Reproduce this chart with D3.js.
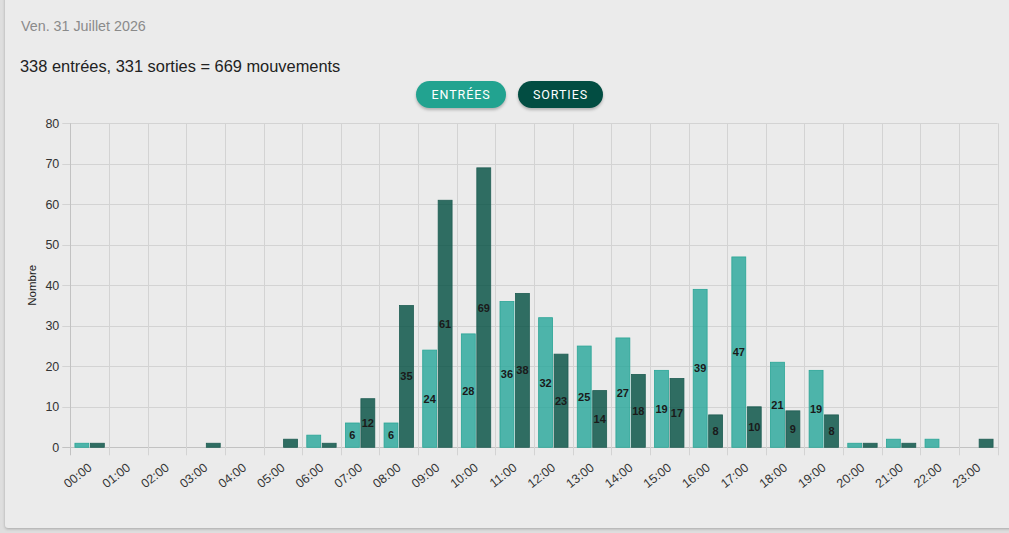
<!DOCTYPE html>
<html lang="fr">
<head>
<meta charset="utf-8">
<script src="https://cdn.jsdelivr.net/npm/d3@7"></script>
<style>
  body { margin: 0; background: #dedede; width: 1009px; height: 533px; overflow: hidden; position: relative; font-family: "Liberation Sans", Arial, sans-serif; }
  .card { position: absolute; left: 5px; top: -20px; width: 1030px; height: 548px; background: #ebebeb; border-radius: 3px; box-shadow: 0 1px 3px rgba(0,0,0,0.25); }
  .date { position: absolute; left: 21px; top: 18px; font-size: 14.3px; color: #8a8a8a; }
  .total { position: absolute; left: 20px; top: 57px; font-size: 16.4px; color: #222; }
  .btn { position: absolute; top: 81px; height: 27px; line-height: 27px; border-radius: 14px; color: #fff; font-family: Roboto, sans-serif; font-size: 12.5px; letter-spacing: 0.9px; text-align: center; box-shadow: 0 2px 3px rgba(0,0,0,0.25); }
  #chart { position: absolute; left: 0; top: 0; }
</style>
</head>
<body>
<div class="card"></div>
<div class="date">Ven. 31 Juillet 2026</div>
<div class="total">338 entrées, 331 sorties = 669 mouvements</div>
<div class="btn" style="left:416px;width:90px;background:#22a390;">ENTRÉES</div>
<div class="btn" style="left:518px;width:85px;background:#024d42;">SORTIES</div>
<svg id="chart" width="1009" height="533"></svg>
<script>
// Data
const heures = ['00:00','01:00','02:00','03:00','04:00','05:00','06:00','07:00','08:00','09:00','10:00','11:00',
                '12:00','13:00','14:00','15:00','16:00','17:00','18:00','19:00','20:00','21:00','22:00','23:00'];
const entrees = [1,0,0,0,0,0,3,6,6,24,28,36,32,25,27,19,39,47,21,19,1,2,2,0];
const sorties = [1,0,0,1,0,2,1,12,35,61,69,38,23,14,18,17,8,10,9,8,1,1,0,2];
const yTicks = [0,10,20,30,40,50,60,70,80];

const series = [
  { key: 'entrees', values: entrees, fill: 'rgba(38,166,154,0.8)', stroke: '#2aa596' },
  { key: 'sorties', values: sorties, fill: 'rgba(0,77,64,0.8)', stroke: '#1f5d53' }
];

const margin = { top: 123.3, right: 11.3, bottom: 85.7, left: 70.3 };
const width = 1009, height = 533;

function drawChart(){
  const svg = d3.select('#chart');

  const x = d3.scaleBand()
    .domain(heures)
    .range([margin.left, width - margin.right]);
  const bw = x.bandwidth();

  // grouped bars, Chart.js style (categoryPercentage 0.8, barPercentage 0.9)
  const x1 = d3.scaleBand()
    .domain(series.map(s => s.key))
    .range([bw * 0.1, bw * 0.9])
    .paddingInner(0.1)
    .paddingOuter(0.05);

  const y = d3.scaleLinear()
    .domain([0, 80])
    .range([height - margin.bottom, margin.top]);

  const grid = svg.append('g');

  // horizontal grid + tick marks
  grid.selectAll('line.h')
    .data(yTicks)
    .enter()
    .append('line')
    .attr('x1', margin.left - 8)
    .attr('x2', width - margin.right)
    .attr('y1', d => Math.round(y(d)) + 0.5)
    .attr('y2', d => Math.round(y(d)) + 0.5)
    .attr('stroke', d => d === 0 ? '#c2c2c2' : '#d3d3d3');

  // vertical grid at category boundaries
  const bounds = heures.map(h => x(h)).concat([width - margin.right]);
  grid.selectAll('line.v')
    .data(bounds)
    .enter()
    .append('line')
    .attr('x1', d => Math.round(d) + 0.5)
    .attr('x2', d => Math.round(d) + 0.5)
    .attr('y1', margin.top)
    .attr('y2', height - margin.bottom + 8)
    .attr('stroke', (d, i) => i === 0 ? '#c2c2c2' : '#d3d3d3');

  // y labels
  svg.selectAll('text.ytick')
    .data(yTicks)
    .enter()
    .append('text')
    .attr('x', margin.left - 11)
    .attr('y', d => y(d) + 4.5)
    .attr('text-anchor', 'end')
    .style('font', '12.5px "Liberation Sans", Arial, sans-serif')
    .attr('fill', '#333')
    .text(d => d);

  // x labels, rotated
  svg.selectAll('text.xtick')
    .data(heures)
    .enter()
    .append('text')
    .attr('transform', d => `translate(${x(d) + bw / 2 + 3},${height - margin.bottom + 22}) rotate(-38)`)
    .attr('text-anchor', 'end')
    .style('font', '12.5px "Liberation Sans", Arial, sans-serif')
    .attr('fill', '#333')
    .text(d => d);

  // bars
  series.forEach(s => {
    const g = svg.append('g');
    g.selectAll('rect')
      .data(s.values.map((v, i) => ({ h: heures[i], v: v })))
      .enter()
      .append('rect')
      .attr('x', d => x(d.h) + x1(s.key))
      .attr('width', x1.bandwidth())
      .attr('y', d => y(d.v))
      .attr('height', d => y(0) - y(d.v))
      .attr('fill', s.fill)
      .attr('stroke', s.stroke)
      .attr('stroke-width', d => d.v > 0 ? 0.8 : 0);

    // value labels in the middle of the bar
    g.selectAll('text')
      .data(s.values.map((v, i) => ({ h: heures[i], v: v })).filter(d => d.v > 5))
      .enter()
      .append('text')
      .attr('x', d => x(d.h) + x1(s.key) + x1.bandwidth() / 2)
      .attr('y', d => (y(d.v) + y(0)) / 2 + 4)
      .attr('text-anchor', 'middle')
      .style('font', 'bold 11px "Liberation Sans", Arial, sans-serif')
      .attr('fill', '#1a1a1a')
      .text(d => d.v);
  });

  // y axis title
  svg.append('text')
    .attr('transform', `translate(36,${(margin.top + height - margin.bottom) / 2}) rotate(-90)`)
    .attr('text-anchor', 'middle')
    .style('font', '11.5px "Liberation Sans", Arial, sans-serif')
    .attr('fill', '#222')
    .text('Nombre');
}

drawChart();
</script>
</body>
</html>
